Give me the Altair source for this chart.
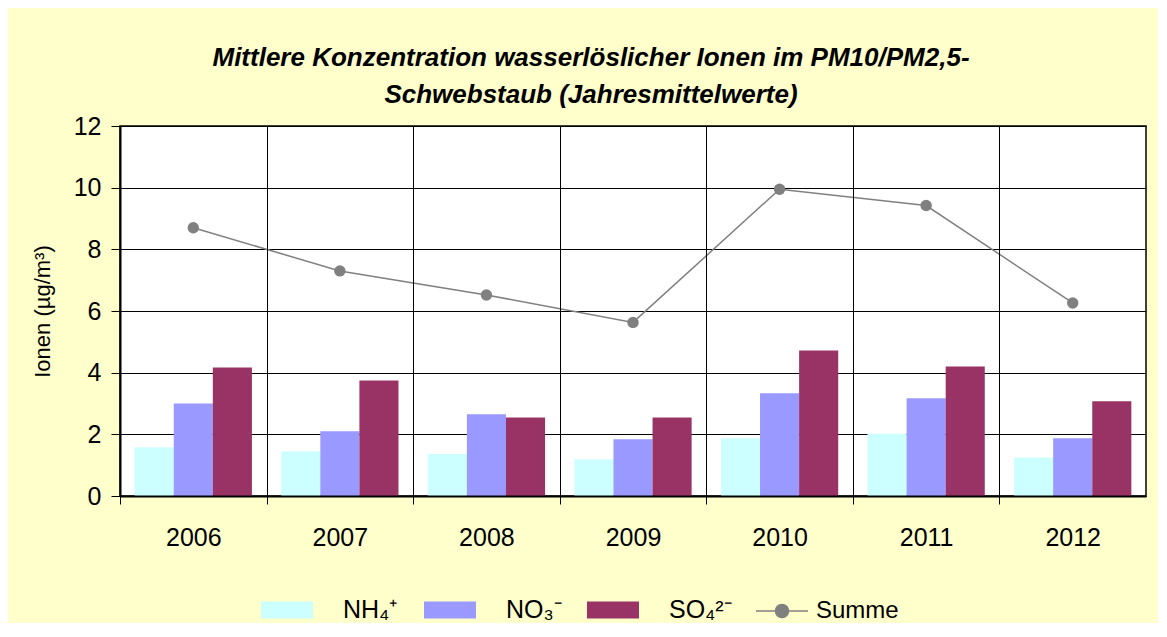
import altair as alt
import pandas as pd

jahre = ["2006", "2007", "2008", "2009", "2010", "2011", "2012"]
nh4 = [1.58, 1.45, 1.36, 1.19, 1.87, 2.02, 1.25]
no3 = [3.00, 2.10, 2.65, 1.84, 3.33, 3.17, 1.87]
so4 = [4.17, 3.75, 2.55, 2.55, 4.72, 4.20, 3.07]
summe = [8.70, 7.30, 6.52, 5.63, 9.95, 9.42, 6.26]

ionen = ["NH₄⁺", "NO₃⁻", "SO₄²⁻"]
serie = "Summe"
farben_ionen = ["#CCFFFF", "#9999FF", "#993366"]
farbe_summe = "#808080"

rows = []
for name, vals in zip(ionen, [nh4, no3, so4]):
    for j, v in zip(jahre, vals):
        rows.append({"Jahr": j, "Ion": name, "Wert": v})
bars_df = pd.DataFrame(rows)
line_df = pd.DataFrame({"Jahr": jahre, "Serie": serie, "Wert": summe})

FONT = "Liberation Sans"
W, H = 1026, 370
half_step = W / len(jahre) / 2

rect_path = "M-1,-0.33L1,-0.33L1,0.33L-1,0.33Z"
line_path = "M-1,0L1,0M-0.25,0A0.25,0.25 0 1,1 0.25,0A0.25,0.25 0 1,1 -0.25,0"

legend_ionen = alt.Legend(
    title=None,
    orient="none",
    legendX=141,
    legendY=458,
    direction="horizontal",
    columns=3,
    gridAlign="all",
    symbolSize=2704,
    symbolType=rect_path,
    symbolStrokeWidth=0,
    symbolOpacity=1,
    labelFont=FONT,
    labelFontSize=25,
    labelColor="#000000",
    labelOffset=30,
    columnPadding=18,
    padding=0,
)

legend_summe = alt.Legend(
    title=None,
    orient="none",
    legendX=635,
    legendY=458,
    direction="horizontal",
    symbolSize=2704,
    symbolType=line_path,
    symbolStrokeWidth=1.5,
    symbolFillColor=farbe_summe,
    symbolStrokeColor=farbe_summe,
    symbolOpacity=1,
    labelFont=FONT,
    labelFontSize=24,
    labelColor="#000000",
    labelOffset=7,
    padding=0,
)

x_enc = alt.X(
    "Jahr:N",
    sort=jahre,
    scale=alt.Scale(paddingInner=0.2, paddingOuter=0.1),
    axis=alt.Axis(
        title=None,
        labelAngle=0,
        grid=True,
        gridColor="#000000",
        gridWidth=1,
        tickOffset=-half_step,
        labelOffset=half_step,
        tickSize=8,
        tickColor="#000000",
        domainColor="#000000",
        domainWidth=2,
        labelFont=FONT,
        labelFontSize=25,
        labelColor="#000000",
        labelPadding=21,
        zindex=1,
    ),
)

y_enc = alt.Y(
    "Wert:Q",
    scale=alt.Scale(domain=[0, 12], nice=False),
    axis=alt.Axis(
        title="Ionen (µg/m³)",
        values=[0, 2, 4, 6, 8, 10, 12],
        grid=True,
        gridColor="#000000",
        gridWidth=1,
        tickSize=9,
        tickColor="#000000",
        domainColor="#000000",
        domainWidth=2,
        labelFont=FONT,
        labelFontSize=25,
        labelColor="#000000",
        labelPadding=10,
        titleFont=FONT,
        titleFontSize=22,
        titleFontWeight="normal",
        titleColor="#000000",
        titlePadding=19,
    ),
)

bars = alt.Chart(bars_df).mark_bar().encode(
    x=x_enc,
    xOffset=alt.XOffset("Ion:N", sort=ionen, scale=alt.Scale(paddingInner=0, paddingOuter=0)),
    y=y_enc,
    color=alt.Color("Ion:N", scale=alt.Scale(domain=ionen, range=farben_ionen), legend=legend_ionen),
)

summe_scale = alt.Scale(domain=[serie], range=[farbe_summe])

line = alt.Chart(line_df).mark_line(strokeWidth=1.5).encode(
    x=alt.X("Jahr:N", sort=jahre),
    y=alt.Y("Wert:Q"),
    color=alt.Color("Serie:N", scale=summe_scale, legend=legend_summe),
)

points = alt.Chart(line_df).mark_point(filled=True, size=130, opacity=1).encode(
    x=alt.X("Jahr:N", sort=jahre),
    y=alt.Y("Wert:Q"),
    color=alt.Color("Serie:N", scale=summe_scale, legend=legend_summe),
)

chart = alt.layer(bars, alt.layer(line, points)).resolve_scale(
    color="independent"
).properties(
    width=W,
    height=H,
    autosize=alt.AutoSizeParams(type="none"),
    padding={"left": 112, "top": 118, "right": 12, "bottom": 127},
    title=alt.Title(
        text=["Mittlere Konzentration wasserlöslicher Ionen im PM10/PM2,5-",
              "Schwebstaub (Jahresmittelwerte)"],
        font=FONT,
        fontSize=26,
        fontStyle="italic",
        fontWeight="bold",
        color="#000000",
        anchor="middle",
        frame="group",
        dx=-42,
        offset=6,
        lineHeight=37,
    ),
).configure(
    background="#FFFFCC",
).configure_view(
    fill="#FFFFFF",
    stroke="#000000",
    strokeWidth=1.5,
)

chart.save("out.html", embed_options={"renderer": "svg", "actions": False})
